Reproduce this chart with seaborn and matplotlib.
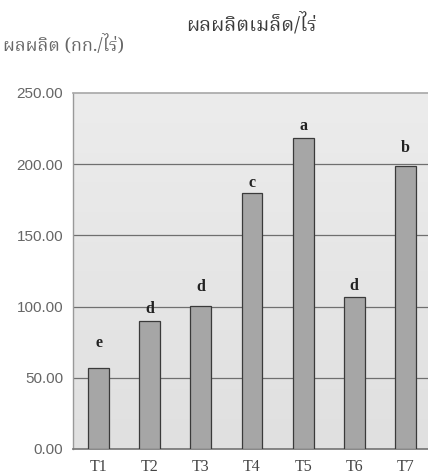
import matplotlib
matplotlib.use("Agg")
import matplotlib.pyplot as plt
from matplotlib import font_manager
from matplotlib.ft2font import FT2Font
import numpy as np
import pandas as pd
import seaborn as sns

# Seed yield per rai for each treatment
treatments = ["T1", "T2", "T3", "T4", "T5", "T6", "T7"]
yields = [56.8, 89.8, 100.3, 179.7, 218.3, 106.4, 198.5]
groups = ["e", "d", "d", "c", "a", "d", "b"]
yticks = [0, 50, 100, 150, 200, 250]

title = "ผลผลิตเมล็ด/ไร่"
ylabel = "ผลผลิต (กก./ไร่)"

# distance (in points) from each bar top to the centre of its group letter
letter_gaps = [18, 8.6, 13.7, 7.2, 8.6, 8, 13]


def thai_family():
    # pick an installed font that actually contains Thai glyphs
    found = []
    for f in font_manager.fontManager.ttflist:
        try:
            ft = FT2Font(f.fname)
            if ft.get_char_index(ord("ผ")) and ft.get_char_index(ord("ไ")):
                found.append(f.name)
        except Exception:
            pass
    for pref in ["Noto Serif Thai", "Norasi", "Loma", "Noto Sans Thai", "Garuda"]:
        if pref in found:
            return pref
    return found[0] if found else "DejaVu Sans"


THAI = thai_family()

sns.set_theme(style="white")
plt.rcParams["font.family"] = ["Liberation Serif", "DejaVu Sans"]

df = pd.DataFrame({"treatment": treatments, "yield": yields})

fig = plt.figure(figsize=(4.28, 4.75), dpi=100)
fig.patch.set_facecolor("white")
ax = fig.add_axes([73 / 428, 26 / 475, 358 / 428, 356 / 475])

# soft vertical gradient behind the bars
grad = np.linspace(0, 1, 256).reshape(-1, 1)
ax.imshow(grad, extent=[-0.5, 6.5, 0, 250], aspect="auto", origin="lower",
          cmap=matplotlib.colors.LinearSegmentedColormap.from_list(
              "bg", ["#e0e0e0", "#ececec"]), zorder=0)

sns.barplot(data=df, x="treatment", y="yield", color="#a6a6a6", width=0.41,
            edgecolor="#3a3a3a", linewidth=0.9, saturation=1, ax=ax, zorder=3)

ax.set_xlim(-0.5, 6.5)
ax.set_ylim(0, 250)
ax.set_yticks(yticks)
ax.set_yticklabels([f"{v:.2f}" for v in yticks], family="Liberation Sans",
                   color="#666666", fontsize=11)
ax.set_xticklabels(treatments, fontsize=11.5, color="#444444")
ax.tick_params(axis="y", length=3, width=0.8, color="#999999", pad=4)
ax.tick_params(axis="x", length=0, pad=7)
for v in yticks[1:-1]:
    ax.axhline(v, color="#6f6f6f", lw=0.9, zorder=1)
ax.set_xlabel("")
ax.set_ylabel("")

ax.spines["left"].set_color("#999999")
ax.spines["left"].set_linewidth(1.0)
ax.spines["bottom"].set_color("#777777")
ax.spines["top"].set_color("#aaaaaa")
ax.spines["right"].set_visible(False)

for i, (v, g, gap) in enumerate(zip(yields, groups, letter_gaps)):
    ax.annotate(g, (i, v), xytext=(0, gap), textcoords="offset points",
                ha="center", va="center", fontsize=11.5,
                fontweight="bold", color="#222222")

fig.text(252 / 428, 1 - 24 / 475, title, ha="center", va="center",
         family=[THAI, "DejaVu Sans"], fontsize=14.5, color="#3a3a3a")
fig.text(3 / 428, 1 - 44 / 475, ylabel, ha="left", va="center",
         family=[THAI, "DejaVu Sans"], fontsize=13, color="#666666")

fig.savefig("out.png", dpi=100, facecolor="white")
